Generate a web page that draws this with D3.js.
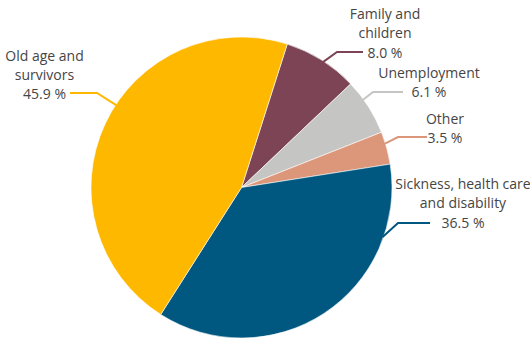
<!DOCTYPE html>
<html>
<head>
<meta charset="utf-8">
<script src="https://cdn.jsdelivr.net/npm/d3@7"></script>
<style>
  html, body { margin: 0; padding: 0; background: #fff; }
  svg { display: block; }
  text { font-family: "Open Sans", "Noto Sans", sans-serif; font-size: 14px; fill: #454545; }
</style>
</head>
<body>
<script>
// Expenditure shares by function (%)
const categories = ["Family and children", "Unemployment", "Other", "Sickness, health care and disability", "Old age and survivors"];
const values = [8.0, 6.1, 3.5, 36.5, 45.9];
const labelLines = [
  ["Family and", "children"],
  ["Unemployment"],
  ["Other"],
  ["Sickness, health care", "and disability"],
  ["Old age and", "survivors"]
];
const colors = ["#7c4454", "#c5c5c4", "#dc967a", "#00577f", "#ffb800"];

const W = 530, H = 340;
const cx = 241.5, cy = 187.5, R = 150.5;
const startAngle = 17.7 * Math.PI / 180;

// Leader line layout: anchor angle on the rim (deg), elbow, end, and label block position
const callouts = [
  { a: 33,    elbow: [337, 52],  end: [363, 52],  tx: 385, ty: 13,  lastY: 52 },
  { a: 54.2,  elbow: [373, 92],  end: [403, 92],  tx: 429, ty: 72,  lastY: 91 },
  { a: 73,    elbow: [398, 137], end: [427, 137], tx: 445, ty: 118, lastY: 137 },
  { a: 109.3, elbow: [398, 223], end: [430, 223], tx: 463, ty: 183, lastY: 222 },
  { a: 303.3, elbow: [97, 93],   end: [70, 93],   tx: 44.5, ty: 55, lastY: 93 }
];

const svg = d3.select("body").append("svg").attr("width", W).attr("height", H);

const pie = d3.pie().sort(null).value(d => d)
  .startAngle(startAngle).endAngle(startAngle + 2 * Math.PI);
const arc = d3.arc().innerRadius(0).outerRadius(R);

const g = svg.append("g").attr("transform", `translate(${cx},${cy})`);
g.selectAll("path")
  .data(pie(values))
  .join("path")
  .attr("d", arc)
  .attr("fill", (d, i) => colors[i])
  .attr("stroke", "#ffffff")
  .attr("stroke-width", 0.6);

const fmt = d3.format(".1f");
const line = d3.line();

callouts.forEach((c, i) => {
  const ang = c.a * Math.PI / 180;
  const p0 = [cx + (R - 1) * Math.sin(ang), cy - (R - 1) * Math.cos(ang)];
  svg.append("path")
    .attr("d", line([p0, c.elbow, c.end]))
    .attr("fill", "none")
    .attr("stroke", colors[i])
    .attr("stroke-width", 2);

  const t = svg.append("g");
  const lines = labelLines[i];
  const step = lines.length > 1 ? (c.lastY - c.ty) / lines.length : 0;
  lines.forEach((s, k) => {
    t.append("text")
      .attr("x", c.tx).attr("y", c.ty + k * step)
      .attr("text-anchor", "middle")
      .attr("dominant-baseline", "central")
      .text(s);
  });
  t.append("text")
    .attr("x", c.tx).attr("y", c.lastY)
    .attr("text-anchor", "middle")
    .attr("dominant-baseline", "central")
    .text(`${fmt(values[i])} %`);
});
</script>
</body>
</html>
